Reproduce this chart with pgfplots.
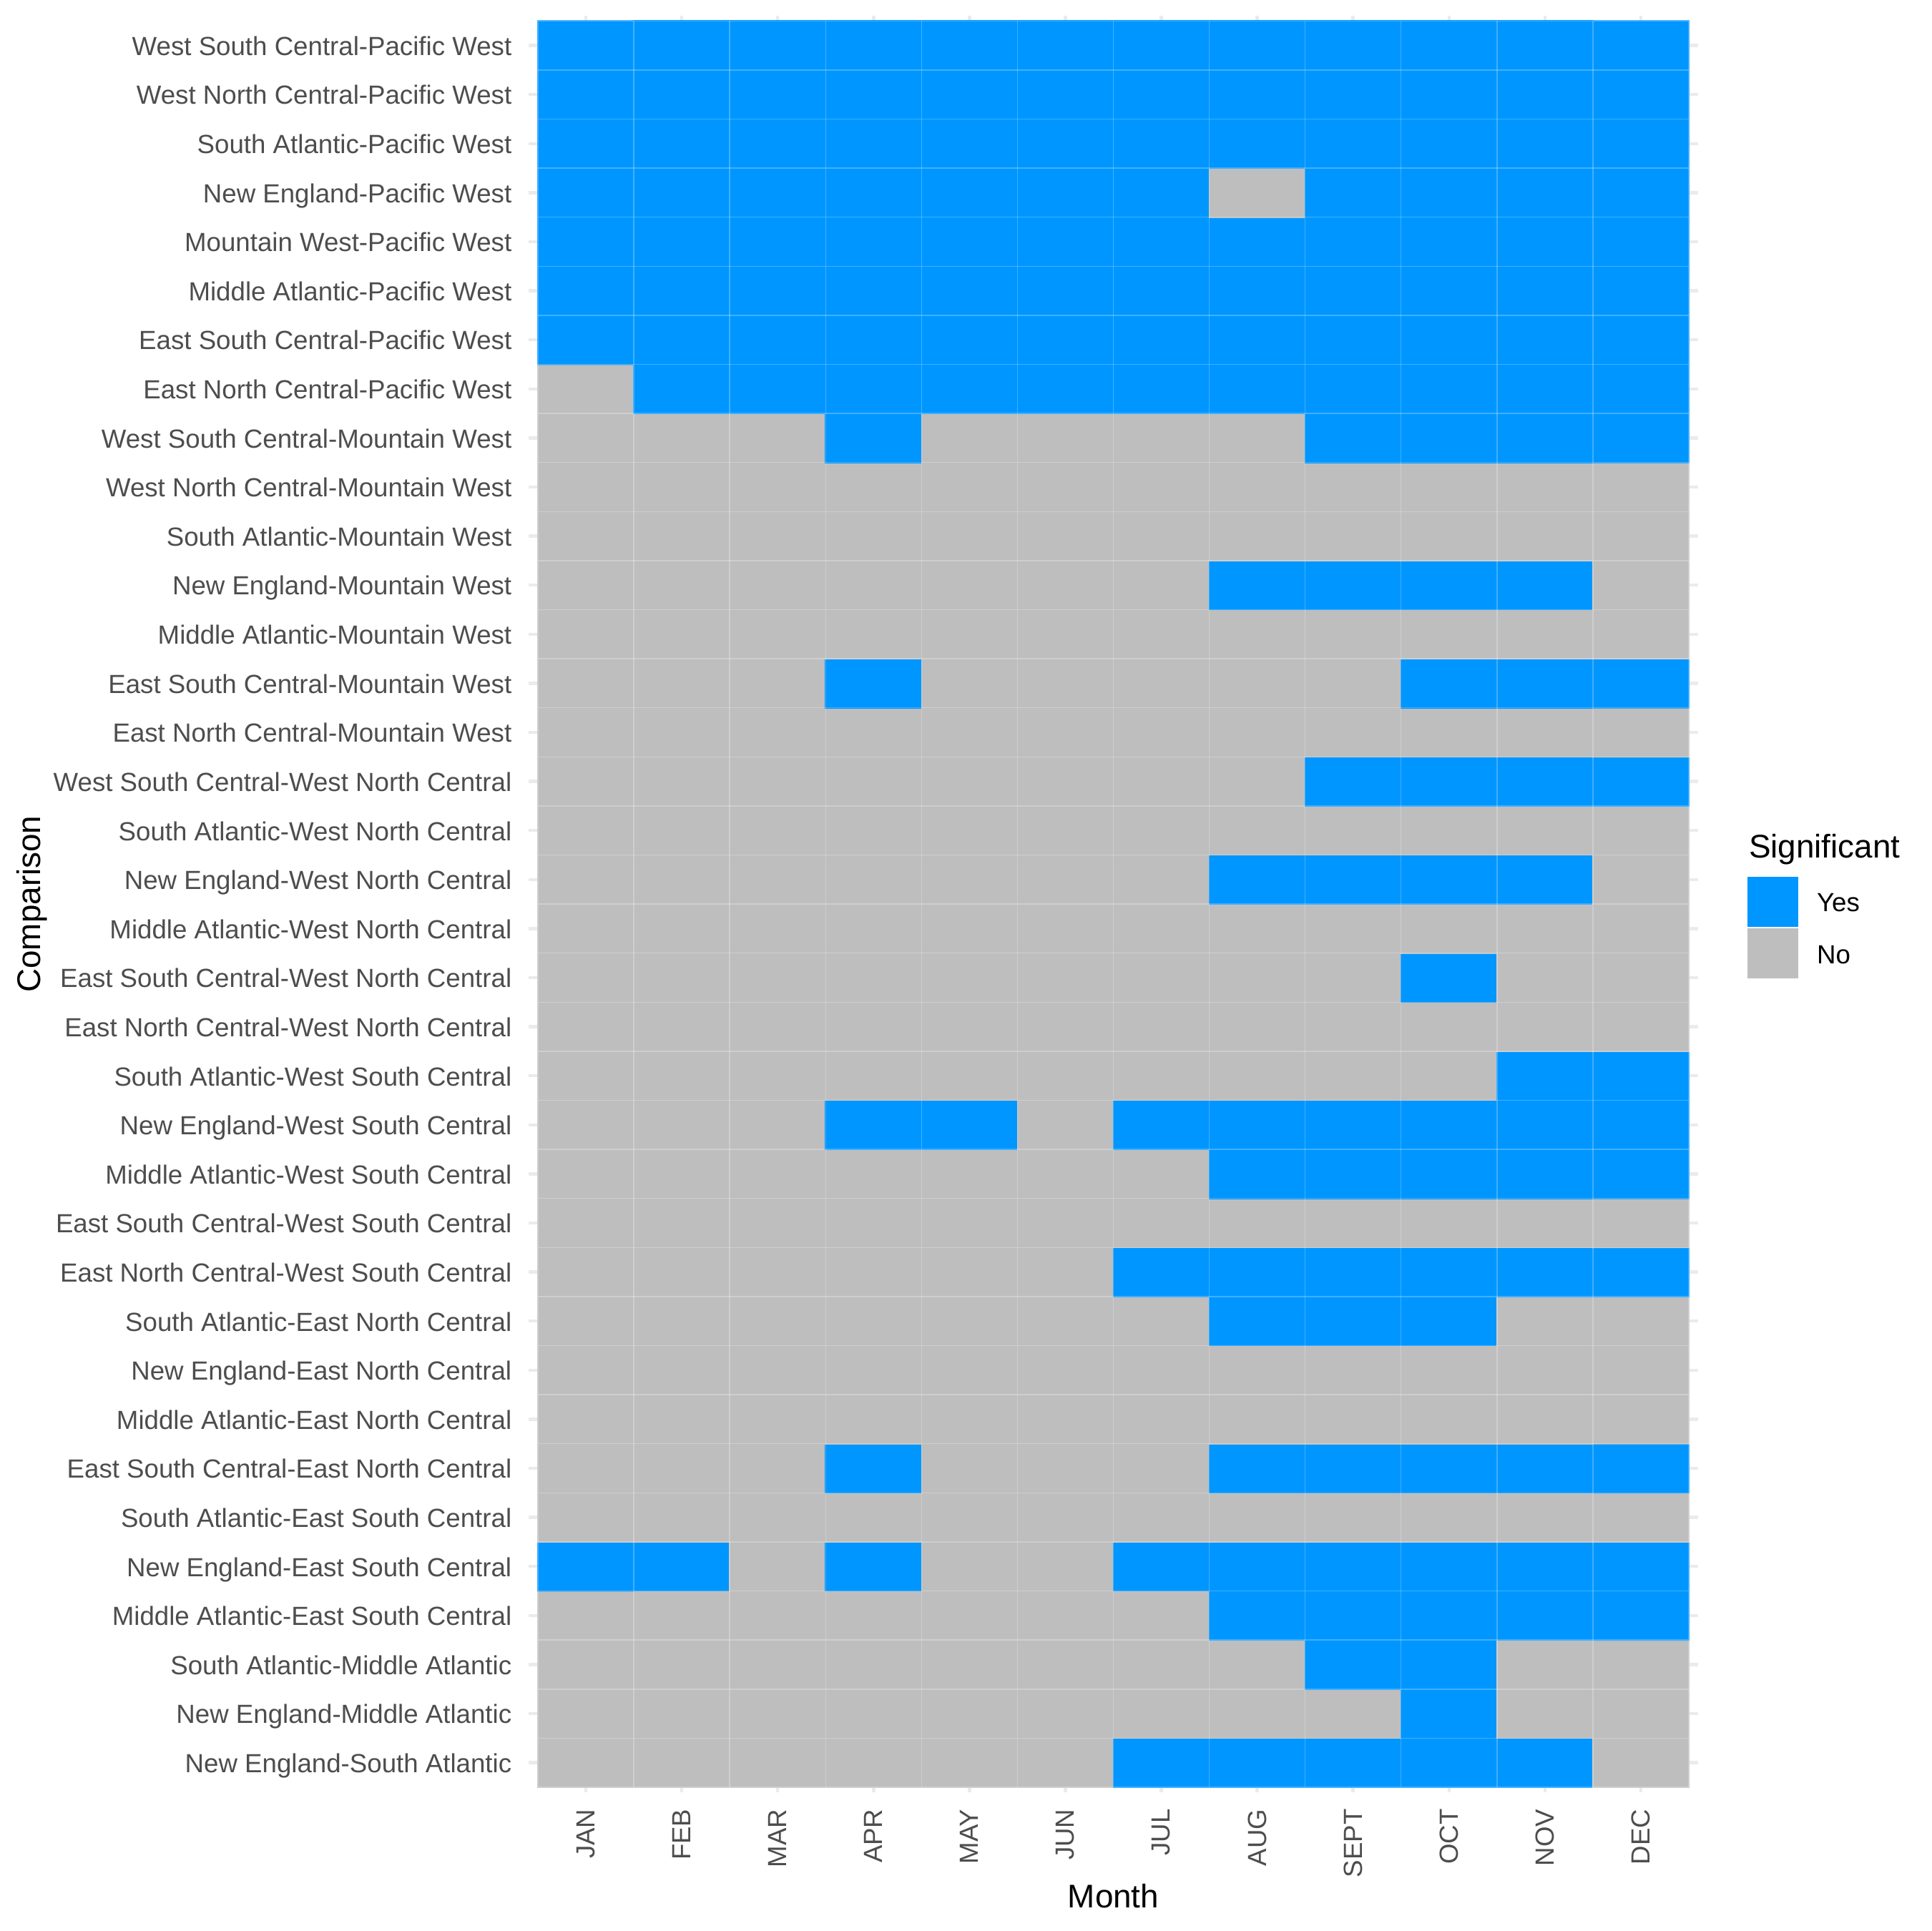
\documentclass[border=0pt]{standalone}
\usepackage{pgfplots}
\pgfplotsset{compat=1.18}
\usepackage{fontspec}
\setmainfont{Liberation Sans}
\definecolor{sigyes}{RGB}{0,150,255}
\definecolor{signo}{RGB}{190,190,190}
\definecolor{gridc}{RGB}{235,235,235}
\definecolor{ticktext}{RGB}{77,77,77}
\begin{document}
\begin{tikzpicture}
\path[use as bounding box] (0,0) rectangle (648pt,648pt);
\begin{axis}[
  at={(177.26pt,46.6pt)}, anchor=south west,
  scale only axis, width=392.6pt, height=596.0pt,
  xmin=-0.6, xmax=11.6, ymin=-0.6, ymax=35.6,
  axis line style={draw=none},
  major tick length=0pt, tick style={draw=none},
  xtick={0,...,11}, ytick={0,...,35},
  xticklabels={JAN,FEB,MAR,APR,MAY,JUN,JUL,AUG,SEPT,OCT,NOV,DEC},
  yticklabels={
    {New England-South Atlantic},
    {New England-Middle Atlantic},
    {South Atlantic-Middle Atlantic},
    {Middle Atlantic-East South Central},
    {New England-East South Central},
    {South Atlantic-East South Central},
    {East South Central-East North Central},
    {Middle Atlantic-East North Central},
    {New England-East North Central},
    {South Atlantic-East North Central},
    {East North Central-West South Central},
    {East South Central-West South Central},
    {Middle Atlantic-West South Central},
    {New England-West South Central},
    {South Atlantic-West South Central},
    {East North Central-West North Central},
    {East South Central-West North Central},
    {Middle Atlantic-West North Central},
    {New England-West North Central},
    {South Atlantic-West North Central},
    {West South Central-West North Central},
    {East North Central-Mountain West},
    {East South Central-Mountain West},
    {Middle Atlantic-Mountain West},
    {New England-Mountain West},
    {South Atlantic-Mountain West},
    {West North Central-Mountain West},
    {West South Central-Mountain West},
    {East North Central-Pacific West},
    {East South Central-Pacific West},
    {Middle Atlantic-Pacific West},
    {Mountain West-Pacific West},
    {New England-Pacific West},
    {South Atlantic-Pacific West},
    {West North Central-Pacific West},
    {West South Central-Pacific West}},
  grid=major, major grid style={gridc, line width=1.07pt},
  xticklabel style={rotate=90, anchor=east, inner sep=0pt, font=\fontsize{8.8}{10}\selectfont, text=ticktext},
  yticklabel style={anchor=base east, inner sep=0pt, yshift=-3.3pt, font=\fontsize{8.8}{10}\selectfont, text=ticktext},
  xticklabel shift=5.5pt, yticklabel shift=5.4pt,
  colormap={sig}{rgb255=(190,190,190) rgb255=(0,150,255)},
  colormap access=direct,
  point meta min=0, point meta max=1,
  clip=false,
]
\addplot[matrix plot*, mesh/cols=12, point meta=explicit] coordinates {
(0,0)[0] (1,0)[0] (2,0)[0] (3,0)[0] (4,0)[0] (5,0)[0] (6,0)[1] (7,0)[1] (8,0)[1] (9,0)[1] (10,0)[1] (11,0)[0]
(0,1)[0] (1,1)[0] (2,1)[0] (3,1)[0] (4,1)[0] (5,1)[0] (6,1)[0] (7,1)[0] (8,1)[0] (9,1)[1] (10,1)[0] (11,1)[0]
(0,2)[0] (1,2)[0] (2,2)[0] (3,2)[0] (4,2)[0] (5,2)[0] (6,2)[0] (7,2)[0] (8,2)[1] (9,2)[1] (10,2)[0] (11,2)[0]
(0,3)[0] (1,3)[0] (2,3)[0] (3,3)[0] (4,3)[0] (5,3)[0] (6,3)[0] (7,3)[1] (8,3)[1] (9,3)[1] (10,3)[1] (11,3)[1]
(0,4)[1] (1,4)[1] (2,4)[0] (3,4)[1] (4,4)[0] (5,4)[0] (6,4)[1] (7,4)[1] (8,4)[1] (9,4)[1] (10,4)[1] (11,4)[1]
(0,5)[0] (1,5)[0] (2,5)[0] (3,5)[0] (4,5)[0] (5,5)[0] (6,5)[0] (7,5)[0] (8,5)[0] (9,5)[0] (10,5)[0] (11,5)[0]
(0,6)[0] (1,6)[0] (2,6)[0] (3,6)[1] (4,6)[0] (5,6)[0] (6,6)[0] (7,6)[1] (8,6)[1] (9,6)[1] (10,6)[1] (11,6)[1]
(0,7)[0] (1,7)[0] (2,7)[0] (3,7)[0] (4,7)[0] (5,7)[0] (6,7)[0] (7,7)[0] (8,7)[0] (9,7)[0] (10,7)[0] (11,7)[0]
(0,8)[0] (1,8)[0] (2,8)[0] (3,8)[0] (4,8)[0] (5,8)[0] (6,8)[0] (7,8)[0] (8,8)[0] (9,8)[0] (10,8)[0] (11,8)[0]
(0,9)[0] (1,9)[0] (2,9)[0] (3,9)[0] (4,9)[0] (5,9)[0] (6,9)[0] (7,9)[1] (8,9)[1] (9,9)[1] (10,9)[0] (11,9)[0]
(0,10)[0] (1,10)[0] (2,10)[0] (3,10)[0] (4,10)[0] (5,10)[0] (6,10)[1] (7,10)[1] (8,10)[1] (9,10)[1] (10,10)[1] (11,10)[1]
(0,11)[0] (1,11)[0] (2,11)[0] (3,11)[0] (4,11)[0] (5,11)[0] (6,11)[0] (7,11)[0] (8,11)[0] (9,11)[0] (10,11)[0] (11,11)[0]
(0,12)[0] (1,12)[0] (2,12)[0] (3,12)[0] (4,12)[0] (5,12)[0] (6,12)[0] (7,12)[1] (8,12)[1] (9,12)[1] (10,12)[1] (11,12)[1]
(0,13)[0] (1,13)[0] (2,13)[0] (3,13)[1] (4,13)[1] (5,13)[0] (6,13)[1] (7,13)[1] (8,13)[1] (9,13)[1] (10,13)[1] (11,13)[1]
(0,14)[0] (1,14)[0] (2,14)[0] (3,14)[0] (4,14)[0] (5,14)[0] (6,14)[0] (7,14)[0] (8,14)[0] (9,14)[0] (10,14)[1] (11,14)[1]
(0,15)[0] (1,15)[0] (2,15)[0] (3,15)[0] (4,15)[0] (5,15)[0] (6,15)[0] (7,15)[0] (8,15)[0] (9,15)[0] (10,15)[0] (11,15)[0]
(0,16)[0] (1,16)[0] (2,16)[0] (3,16)[0] (4,16)[0] (5,16)[0] (6,16)[0] (7,16)[0] (8,16)[0] (9,16)[1] (10,16)[0] (11,16)[0]
(0,17)[0] (1,17)[0] (2,17)[0] (3,17)[0] (4,17)[0] (5,17)[0] (6,17)[0] (7,17)[0] (8,17)[0] (9,17)[0] (10,17)[0] (11,17)[0]
(0,18)[0] (1,18)[0] (2,18)[0] (3,18)[0] (4,18)[0] (5,18)[0] (6,18)[0] (7,18)[1] (8,18)[1] (9,18)[1] (10,18)[1] (11,18)[0]
(0,19)[0] (1,19)[0] (2,19)[0] (3,19)[0] (4,19)[0] (5,19)[0] (6,19)[0] (7,19)[0] (8,19)[0] (9,19)[0] (10,19)[0] (11,19)[0]
(0,20)[0] (1,20)[0] (2,20)[0] (3,20)[0] (4,20)[0] (5,20)[0] (6,20)[0] (7,20)[0] (8,20)[1] (9,20)[1] (10,20)[1] (11,20)[1]
(0,21)[0] (1,21)[0] (2,21)[0] (3,21)[0] (4,21)[0] (5,21)[0] (6,21)[0] (7,21)[0] (8,21)[0] (9,21)[0] (10,21)[0] (11,21)[0]
(0,22)[0] (1,22)[0] (2,22)[0] (3,22)[1] (4,22)[0] (5,22)[0] (6,22)[0] (7,22)[0] (8,22)[0] (9,22)[1] (10,22)[1] (11,22)[1]
(0,23)[0] (1,23)[0] (2,23)[0] (3,23)[0] (4,23)[0] (5,23)[0] (6,23)[0] (7,23)[0] (8,23)[0] (9,23)[0] (10,23)[0] (11,23)[0]
(0,24)[0] (1,24)[0] (2,24)[0] (3,24)[0] (4,24)[0] (5,24)[0] (6,24)[0] (7,24)[1] (8,24)[1] (9,24)[1] (10,24)[1] (11,24)[0]
(0,25)[0] (1,25)[0] (2,25)[0] (3,25)[0] (4,25)[0] (5,25)[0] (6,25)[0] (7,25)[0] (8,25)[0] (9,25)[0] (10,25)[0] (11,25)[0]
(0,26)[0] (1,26)[0] (2,26)[0] (3,26)[0] (4,26)[0] (5,26)[0] (6,26)[0] (7,26)[0] (8,26)[0] (9,26)[0] (10,26)[0] (11,26)[0]
(0,27)[0] (1,27)[0] (2,27)[0] (3,27)[1] (4,27)[0] (5,27)[0] (6,27)[0] (7,27)[0] (8,27)[1] (9,27)[1] (10,27)[1] (11,27)[1]
(0,28)[0] (1,28)[1] (2,28)[1] (3,28)[1] (4,28)[1] (5,28)[1] (6,28)[1] (7,28)[1] (8,28)[1] (9,28)[1] (10,28)[1] (11,28)[1]
(0,29)[1] (1,29)[1] (2,29)[1] (3,29)[1] (4,29)[1] (5,29)[1] (6,29)[1] (7,29)[1] (8,29)[1] (9,29)[1] (10,29)[1] (11,29)[1]
(0,30)[1] (1,30)[1] (2,30)[1] (3,30)[1] (4,30)[1] (5,30)[1] (6,30)[1] (7,30)[1] (8,30)[1] (9,30)[1] (10,30)[1] (11,30)[1]
(0,31)[1] (1,31)[1] (2,31)[1] (3,31)[1] (4,31)[1] (5,31)[1] (6,31)[1] (7,31)[1] (8,31)[1] (9,31)[1] (10,31)[1] (11,31)[1]
(0,32)[1] (1,32)[1] (2,32)[1] (3,32)[1] (4,32)[1] (5,32)[1] (6,32)[1] (7,32)[0] (8,32)[1] (9,32)[1] (10,32)[1] (11,32)[1]
(0,33)[1] (1,33)[1] (2,33)[1] (3,33)[1] (4,33)[1] (5,33)[1] (6,33)[1] (7,33)[1] (8,33)[1] (9,33)[1] (10,33)[1] (11,33)[1]
(0,34)[1] (1,34)[1] (2,34)[1] (3,34)[1] (4,34)[1] (5,34)[1] (6,34)[1] (7,34)[1] (8,34)[1] (9,34)[1] (10,34)[1] (11,34)[1]
(0,35)[1] (1,35)[1] (2,35)[1] (3,35)[1] (4,35)[1] (5,35)[1] (6,35)[1] (7,35)[1] (8,35)[1] (9,35)[1] (10,35)[1] (11,35)[1]
};
\pgfplotsinvokeforeach{-0.5,0.5,...,11.5}{\draw[white, opacity=0.25, line width=0.35pt] (axis cs:#1,-0.5) -- (axis cs:#1,35.5);}
\pgfplotsinvokeforeach{-0.5,0.5,...,35.5}{\draw[white, opacity=0.25, line width=0.35pt] (axis cs:-0.5,#1) -- (axis cs:11.5,#1);}
\end{axis}
\node[rotate=90, anchor=base, inner sep=0pt] at (13.6pt,344.6pt) {\fontsize{11}{13}\selectfont Comparison};
\node[anchor=base, inner sep=0pt] at (373.56pt,7.9pt) {\fontsize{11}{13}\selectfont Month};
\node[anchor=base west, inner sep=0pt] at (586.6pt,360.2pt) {\fontsize{11}{13}\selectfont Significant};
\fill[sigyes] (586.3pt,336.7pt) rectangle (603.4pt,353.8pt);
\fill[signo] (586.3pt,319.7pt) rectangle (603.4pt,336.7pt);
\draw[white, line width=0.4pt] (586.3pt,336.7pt) -- (603.4pt,336.7pt);
\node[anchor=base west, inner sep=0pt] at (609.4pt,342.0pt) {\fontsize{8.8}{10}\selectfont Yes};
\node[anchor=base west, inner sep=0pt] at (609.4pt,324.7pt) {\fontsize{8.8}{10}\selectfont No};
\end{tikzpicture}
\end{document}
